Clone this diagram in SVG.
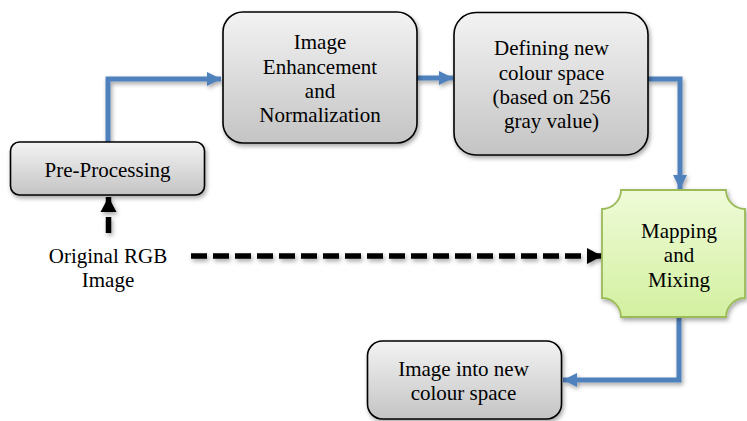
<svg xmlns="http://www.w3.org/2000/svg" width="747" height="421" viewBox="0 0 747 421">
<defs>
<linearGradient id="gray" x1="0" y1="0" x2="0" y2="1">
<stop offset="0" stop-color="#f3f3f3"/>
<stop offset="1" stop-color="#c4c4c4"/>
</linearGradient>
<linearGradient id="green" x1="0" y1="0" x2="0" y2="1">
<stop offset="0" stop-color="#effbd8"/>
<stop offset="1" stop-color="#d3f0a0"/>
</linearGradient>
<filter id="sh" filterUnits="userSpaceOnUse" x="0" y="0" width="747" height="421">
<feDropShadow dx="1.5" dy="2.5" stdDeviation="2" flood-color="#000" flood-opacity="0.35"/>
</filter>
<marker id="blueHead" markerUnits="userSpaceOnUse" markerWidth="16" markerHeight="16" refX="14" refY="8" orient="auto" viewBox="0 0 16 16">
<path d="M0,1 L14,8 L0,15 Z" fill="#4f81bd"/>
</marker>
<marker id="blackHead" markerUnits="userSpaceOnUse" markerWidth="16" markerHeight="18" refX="15" refY="9" orient="auto" viewBox="0 0 16 18">
<path d="M0,1 L15,9 L0,17 Z" fill="#000"/>
</marker>
</defs>
<g id="connectors" fill="none" filter="url(#sh)">
<g stroke="#4f81bd" stroke-width="5" marker-end="url(#blueHead)">
<path d="M108,142 V79 H221"/>
<path d="M417,78 H453"/>
<path d="M648,79 H680 V189"/>
<path d="M679,317 V380 H563"/>
</g>
<g stroke="#000" stroke-width="5.5" marker-end="url(#blackHead)">
<path d="M191,256 H602" stroke-dasharray="16 6"/>
<path d="M108.5,233 V197" stroke-dasharray="16 5"/>
</g>
</g>
<g id="pre-processing">
<rect x="10.5" y="142" width="194" height="53" rx="9" fill="url(#gray)" stroke="#000" stroke-width="1.6" filter="url(#sh)"/>
</g>
<g id="image-enhancement">
<rect x="223" y="12" width="194" height="131" rx="20" fill="url(#gray)" stroke="#000" stroke-width="1.6" filter="url(#sh)"/>
</g>
<g id="defining">
<rect x="454" y="12.5" width="194" height="142.5" rx="22" fill="url(#gray)" stroke="#000" stroke-width="1.6" filter="url(#sh)"/>
</g>
<g id="mapping">
<path d="M621,190 H726 A19,19 0 0 0 745,209 V298 A19,19 0 0 0 726,317 H621 A19,19 0 0 0 602,298 V209 A19,19 0 0 0 621,190 Z" fill="url(#green)" stroke="#9bbb59" stroke-width="1.8" filter="url(#sh)"/>
</g>
<g id="image-into">
<rect x="367.5" y="341" width="194" height="78" rx="15" fill="url(#gray)" stroke="#000" stroke-width="1.6" filter="url(#sh)"/>
</g>
<text x="107.5" y="177" font-family="Times New Roman" font-size="21" text-anchor="middle">Pre-Processing</text>
<text x="320" y="49" font-family="Times New Roman" font-size="21" text-anchor="middle">Image</text>
<text x="320" y="73.5" font-family="Times New Roman" font-size="21" text-anchor="middle">Enhancement</text>
<text x="320" y="98" font-family="Times New Roman" font-size="21" text-anchor="middle">and</text>
<text x="320" y="122" font-family="Times New Roman" font-size="21" text-anchor="middle">Normalization</text>
<text x="551.5" y="55" font-family="Times New Roman" font-size="21" text-anchor="middle">Defining new</text>
<text x="551.5" y="79.5" font-family="Times New Roman" font-size="21" text-anchor="middle">colour space</text>
<text x="551.5" y="104" font-family="Times New Roman" font-size="21" text-anchor="middle">(based on 256</text>
<text x="551.5" y="128" font-family="Times New Roman" font-size="21" text-anchor="middle">gray value)</text>
<text x="679" y="238" font-family="Times New Roman" font-size="21" text-anchor="middle">Mapping</text>
<text x="679" y="262" font-family="Times New Roman" font-size="21" text-anchor="middle">and</text>
<text x="679" y="286.5" font-family="Times New Roman" font-size="21" text-anchor="middle">Mixing</text>
<text x="463.5" y="376" font-family="Times New Roman" font-size="21" text-anchor="middle">Image into new</text>
<text x="463.5" y="399.5" font-family="Times New Roman" font-size="21" text-anchor="middle">colour space</text>
<text x="108" y="263" font-family="Times New Roman" font-size="21" text-anchor="middle">Original RGB</text>
<text x="108" y="287" font-family="Times New Roman" font-size="21" text-anchor="middle">Image</text>
</svg>
